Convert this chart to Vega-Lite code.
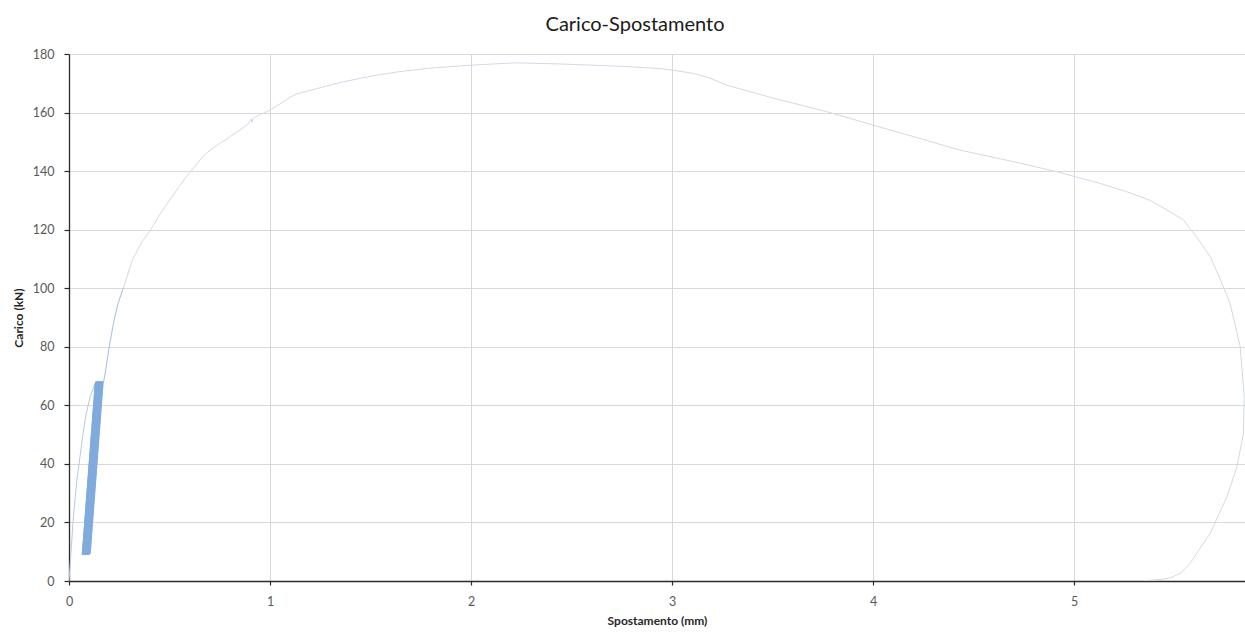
{
  "$schema": "https://vega.github.io/schema/vega-lite/v6.json",
  "width": 1176,
  "height": 527,
  "autosize": "none",
  "padding": {"left": 69, "top": 54, "right": 0, "bottom": 53},
  "background": "white",
  "title": {
    "text": "Carico-Spostamento",
    "font": "Lato",
    "fontSize": 20,
    "fontWeight": "normal",
    "color": "#1a1a1a",
    "anchor": "middle",
    "dx": -22,
    "offset": 13
  },
  "config": {
    "view": {"stroke": null},
    "axis": {
      "labelFont": "Lato",
      "titleFont": "Lato",
      "labelFontSize": 12.5,
      "labelColor": "#595959",
      "labelFlush": false,
      "titleFontSize": 12,
      "titleFontWeight": "bold",
      "titleColor": "#262626",
      "gridColor": "#d9d9d9",
      "gridWidth": 1,
      "domainColor": "#2b2b2b",
      "domainWidth": 1.3,
      "tickColor": "#2b2b2b",
      "tickWidth": 1.2
    }
  },
  "data": {
    "values": [
      {"n": 1, "spostamento": 0.0, "carico": 0.0, "fase": "primo carico"},
      {"n": 2, "spostamento": 0.005, "carico": 5, "fase": "primo carico"},
      {"n": 3, "spostamento": 0.012, "carico": 12, "fase": "primo carico"},
      {"n": 4, "spostamento": 0.02, "carico": 20, "fase": "primo carico"},
      {"n": 5, "spostamento": 0.03, "carico": 28, "fase": "primo carico"},
      {"n": 6, "spostamento": 0.04, "carico": 35, "fase": "primo carico"},
      {"n": 7, "spostamento": 0.05, "carico": 40, "fase": "primo carico"},
      {"n": 8, "spostamento": 0.065, "carico": 48, "fase": "primo carico"},
      {"n": 9, "spostamento": 0.08, "carico": 55, "fase": "primo carico"},
      {"n": 10, "spostamento": 0.095, "carico": 60, "fase": "primo carico"},
      {"n": 11, "spostamento": 0.11, "carico": 64, "fase": "primo carico"},
      {"n": 12, "spostamento": 0.13, "carico": 67.5, "fase": "primo carico"},

      {"n": 13, "spostamento": 0.13, "carico": 67.5, "fase": "cicli"},
      {"n": 14, "spostamento": 0.066, "carico": 9, "fase": "cicli"},
      {"n": 15, "spostamento": 0.132, "carico": 68, "fase": "cicli"},
      {"n": 16, "spostamento": 0.138, "carico": 68, "fase": "cicli"},
      {"n": 17, "spostamento": 0.074, "carico": 9.5, "fase": "cicli"},
      {"n": 18, "spostamento": 0.068, "carico": 9, "fase": "cicli"},
      {"n": 19, "spostamento": 0.134, "carico": 68, "fase": "cicli"},
      {"n": 20, "spostamento": 0.140, "carico": 68, "fase": "cicli"},
      {"n": 21, "spostamento": 0.076, "carico": 9.5, "fase": "cicli"},
      {"n": 22, "spostamento": 0.070, "carico": 9, "fase": "cicli"},
      {"n": 23, "spostamento": 0.136, "carico": 68, "fase": "cicli"},
      {"n": 24, "spostamento": 0.142, "carico": 68, "fase": "cicli"},
      {"n": 25, "spostamento": 0.078, "carico": 9.5, "fase": "cicli"},
      {"n": 26, "spostamento": 0.072, "carico": 9, "fase": "cicli"},
      {"n": 27, "spostamento": 0.138, "carico": 68, "fase": "cicli"},
      {"n": 28, "spostamento": 0.144, "carico": 68, "fase": "cicli"},
      {"n": 29, "spostamento": 0.080, "carico": 9.5, "fase": "cicli"},
      {"n": 30, "spostamento": 0.074, "carico": 9, "fase": "cicli"},
      {"n": 31, "spostamento": 0.140, "carico": 68, "fase": "cicli"},
      {"n": 32, "spostamento": 0.146, "carico": 68, "fase": "cicli"},
      {"n": 33, "spostamento": 0.082, "carico": 9.5, "fase": "cicli"},
      {"n": 34, "spostamento": 0.076, "carico": 9, "fase": "cicli"},
      {"n": 35, "spostamento": 0.142, "carico": 68, "fase": "cicli"},
      {"n": 36, "spostamento": 0.148, "carico": 68, "fase": "cicli"},
      {"n": 37, "spostamento": 0.084, "carico": 9.5, "fase": "cicli"},
      {"n": 38, "spostamento": 0.078, "carico": 9, "fase": "cicli"},
      {"n": 39, "spostamento": 0.144, "carico": 68, "fase": "cicli"},
      {"n": 40, "spostamento": 0.150, "carico": 68, "fase": "cicli"},
      {"n": 41, "spostamento": 0.086, "carico": 9.5, "fase": "cicli"},
      {"n": 42, "spostamento": 0.080, "carico": 9, "fase": "cicli"},
      {"n": 43, "spostamento": 0.146, "carico": 68, "fase": "cicli"},
      {"n": 44, "spostamento": 0.152, "carico": 68, "fase": "cicli"},
      {"n": 45, "spostamento": 0.088, "carico": 9.5, "fase": "cicli"},
      {"n": 46, "spostamento": 0.082, "carico": 9, "fase": "cicli"},
      {"n": 47, "spostamento": 0.148, "carico": 68, "fase": "cicli"},
      {"n": 48, "spostamento": 0.154, "carico": 68, "fase": "cicli"},
      {"n": 49, "spostamento": 0.090, "carico": 9.5, "fase": "cicli"},
      {"n": 50, "spostamento": 0.084, "carico": 9, "fase": "cicli"},
      {"n": 51, "spostamento": 0.150, "carico": 68, "fase": "cicli"},
      {"n": 52, "spostamento": 0.156, "carico": 68, "fase": "cicli"},
      {"n": 53, "spostamento": 0.092, "carico": 9.5, "fase": "cicli"},
      {"n": 54, "spostamento": 0.086, "carico": 9, "fase": "cicli"},
      {"n": 55, "spostamento": 0.152, "carico": 68, "fase": "cicli"},
      {"n": 56, "spostamento": 0.158, "carico": 68, "fase": "cicli"},
      {"n": 57, "spostamento": 0.094, "carico": 9.5, "fase": "cicli"},
      {"n": 58, "spostamento": 0.088, "carico": 9, "fase": "cicli"},
      {"n": 59, "spostamento": 0.154, "carico": 68, "fase": "cicli"},
      {"n": 60, "spostamento": 0.160, "carico": 68, "fase": "cicli"},
      {"n": 61, "spostamento": 0.096, "carico": 9.5, "fase": "cicli"},
      {"n": 62, "spostamento": 0.090, "carico": 9, "fase": "cicli"},
      {"n": 63, "spostamento": 0.156, "carico": 68, "fase": "cicli"},
      {"n": 64, "spostamento": 0.162, "carico": 68, "fase": "cicli"},
      {"n": 65, "spostamento": 0.098, "carico": 9.5, "fase": "cicli"},
      {"n": 66, "spostamento": 0.092, "carico": 9, "fase": "cicli"},
      {"n": 67, "spostamento": 0.158, "carico": 68, "fase": "cicli"},
      {"n": 68, "spostamento": 0.164, "carico": 68, "fase": "cicli"},
      {"n": 69, "spostamento": 0.100, "carico": 9.5, "fase": "cicli"},
      {"n": 70, "spostamento": 0.094, "carico": 9, "fase": "cicli"},
      {"n": 71, "spostamento": 0.160, "carico": 68, "fase": "cicli"},
      {"n": 72, "spostamento": 0.166, "carico": 68, "fase": "cicli"},
      {"n": 73, "spostamento": 0.102, "carico": 9.5, "fase": "cicli"},
      {"n": 74, "spostamento": 0.096, "carico": 9, "fase": "cicli"},
      {"n": 75, "spostamento": 0.162, "carico": 68, "fase": "cicli"},
      {"n": 76, "spostamento": 0.168, "carico": 68, "fase": "cicli"},
      {"n": 77, "spostamento": 0.104, "carico": 9.5, "fase": "cicli"},
      {"n": 78, "spostamento": 0.098, "carico": 9, "fase": "cicli"},
      {"n": 79, "spostamento": 0.164, "carico": 68, "fase": "cicli"},
      {"n": 80, "spostamento": 0.170, "carico": 68, "fase": "cicli"},
      {"n": 81, "spostamento": 0.106, "carico": 9.5, "fase": "cicli"},
      {"n": 82, "spostamento": 0.100, "carico": 9, "fase": "cicli"},
      {"n": 83, "spostamento": 0.166, "carico": 68, "fase": "cicli"},
      {"n": 84, "spostamento": 0.172, "carico": 68, "fase": "cicli"},

      {"n": 85, "spostamento": 0.172, "carico": 68, "fase": "ripresa"},
      {"n": 86, "spostamento": 0.18, "carico": 71, "fase": "ripresa"},
      {"n": 87, "spostamento": 0.19, "carico": 75.5, "fase": "ripresa"},
      {"n": 88, "spostamento": 0.20, "carico": 80, "fase": "ripresa"},
      {"n": 89, "spostamento": 0.224, "carico": 89, "fase": "ripresa"},
      {"n": 90, "spostamento": 0.245, "carico": 95, "fase": "ripresa"},
      {"n": 91, "spostamento": 0.27, "carico": 100, "fase": "ripresa"},

      {"n": 92, "spostamento": 0.27, "carico": 100, "fase": "inviluppo"},
      {"n": 93, "spostamento": 0.315, "carico": 109.6, "fase": "inviluppo"},
      {"n": 94, "spostamento": 0.36, "carico": 115.5, "fase": "inviluppo"},
      {"n": 95, "spostamento": 0.406, "carico": 120, "fase": "inviluppo"},
      {"n": 96, "spostamento": 0.45, "carico": 125, "fase": "inviluppo"},
      {"n": 97, "spostamento": 0.50, "carico": 130, "fase": "inviluppo"},
      {"n": 98, "spostamento": 0.55, "carico": 135, "fase": "inviluppo"},
      {"n": 99, "spostamento": 0.605, "carico": 140, "fase": "inviluppo"},
      {"n": 100, "spostamento": 0.68, "carico": 146, "fase": "inviluppo"},
      {"n": 101, "spostamento": 0.74, "carico": 149, "fase": "inviluppo"},
      {"n": 102, "spostamento": 0.80, "carico": 151.7, "fase": "inviluppo"},
      {"n": 103, "spostamento": 0.86, "carico": 154.5, "fase": "inviluppo"},
      {"n": 104, "spostamento": 0.895, "carico": 156.3, "fase": "inviluppo"},
      {"n": 105, "spostamento": 0.905, "carico": 157.8, "fase": "inviluppo"},
      {"n": 106, "spostamento": 0.91, "carico": 156.6, "fase": "inviluppo"},
      {"n": 107, "spostamento": 0.915, "carico": 158, "fase": "inviluppo"},
      {"n": 108, "spostamento": 0.95, "carico": 159.3, "fase": "inviluppo"},
      {"n": 109, "spostamento": 1.0, "carico": 160.8, "fase": "inviluppo"},
      {"n": 110, "spostamento": 1.05, "carico": 163, "fase": "inviluppo"},
      {"n": 111, "spostamento": 1.095, "carico": 165, "fase": "inviluppo"},
      {"n": 112, "spostamento": 1.13, "carico": 166.3, "fase": "inviluppo"},
      {"n": 113, "spostamento": 1.25, "carico": 168.5, "fase": "inviluppo"},
      {"n": 114, "spostamento": 1.365, "carico": 170.5, "fase": "inviluppo"},
      {"n": 115, "spostamento": 1.5, "carico": 172.4, "fase": "inviluppo"},
      {"n": 116, "spostamento": 1.647, "carico": 174, "fase": "inviluppo"},
      {"n": 117, "spostamento": 1.8, "carico": 175.2, "fase": "inviluppo"},
      {"n": 118, "spostamento": 2.0, "carico": 176.2, "fase": "inviluppo"},
      {"n": 119, "spostamento": 2.227, "carico": 177, "fase": "inviluppo"},
      {"n": 120, "spostamento": 2.44, "carico": 176.6, "fase": "inviluppo"},
      {"n": 121, "spostamento": 2.6, "carico": 176.2, "fase": "inviluppo"},
      {"n": 122, "spostamento": 2.775, "carico": 175.7, "fase": "inviluppo"},
      {"n": 123, "spostamento": 2.94, "carico": 175, "fase": "inviluppo"},
      {"n": 124, "spostamento": 3.0, "carico": 174.5, "fase": "inviluppo"},
      {"n": 125, "spostamento": 3.106, "carico": 173.4, "fase": "inviluppo"},
      {"n": 126, "spostamento": 3.19, "carico": 171.7, "fase": "inviluppo"},
      {"n": 127, "spostamento": 3.27, "carico": 169.4, "fase": "inviluppo"},
      {"n": 128, "spostamento": 3.5, "carico": 165, "fase": "inviluppo"},
      {"n": 129, "spostamento": 3.77, "carico": 160.3, "fase": "inviluppo"},
      {"n": 130, "spostamento": 4.0, "carico": 155.7, "fase": "inviluppo"},
      {"n": 131, "spostamento": 4.2, "carico": 151.8, "fase": "inviluppo"},
      {"n": 132, "spostamento": 4.43, "carico": 147.2, "fase": "inviluppo"},
      {"n": 133, "spostamento": 4.7, "carico": 143.2, "fase": "inviluppo"},
      {"n": 134, "spostamento": 4.914, "carico": 139.8, "fase": "inviluppo"},
      {"n": 135, "spostamento": 5.005, "carico": 138.1, "fase": "inviluppo"},
      {"n": 136, "spostamento": 5.13, "carico": 135.8, "fase": "inviluppo"},
      {"n": 137, "spostamento": 5.26, "carico": 133, "fase": "inviluppo"},
      {"n": 138, "spostamento": 5.378, "carico": 130, "fase": "inviluppo"},
      {"n": 139, "spostamento": 5.46, "carico": 126.8, "fase": "inviluppo"},
      {"n": 140, "spostamento": 5.544, "carico": 123.3, "fase": "inviluppo"},
      {"n": 141, "spostamento": 5.62, "carico": 116.5, "fase": "inviluppo"},
      {"n": 142, "spostamento": 5.677, "carico": 110.8, "fase": "inviluppo"},
      {"n": 143, "spostamento": 5.73, "carico": 102.5, "fase": "inviluppo"},
      {"n": 144, "spostamento": 5.776, "carico": 94.8, "fase": "inviluppo"},
      {"n": 145, "spostamento": 5.826, "carico": 80, "fase": "inviluppo"},
      {"n": 146, "spostamento": 5.846, "carico": 63, "fase": "inviluppo"},
      {"n": 147, "spostamento": 5.842, "carico": 50.4, "fase": "inviluppo"},
      {"n": 148, "spostamento": 5.81, "carico": 39, "fase": "inviluppo"},
      {"n": 149, "spostamento": 5.76, "carico": 28.8, "fase": "inviluppo"},
      {"n": 150, "spostamento": 5.677, "carico": 16.3, "fase": "inviluppo"},
      {"n": 151, "spostamento": 5.62, "carico": 10.5, "fase": "inviluppo"},
      {"n": 152, "spostamento": 5.577, "carico": 6, "fase": "inviluppo"},
      {"n": 153, "spostamento": 5.53, "carico": 2.7, "fase": "inviluppo"},
      {"n": 154, "spostamento": 5.486, "carico": 1.3, "fase": "inviluppo"},
      {"n": 155, "spostamento": 5.44, "carico": 0.6, "fase": "inviluppo"},
      {"n": 156, "spostamento": 5.38, "carico": 0.3, "fase": "inviluppo"},
      {"n": 157, "spostamento": 5.35, "carico": 0.2, "fase": "inviluppo"}
    ]
  },
  "mark": {"type": "line", "clip": true, "strokeWidth": 1, "strokeJoin": "round"},
  "encoding": {
    "x": {
      "field": "spostamento",
      "type": "quantitative",
      "scale": {"domain": [0, 5.85], "nice": false},
      "axis": {
        "title": "Spostamento (mm)",
        "values": [0, 1, 2, 3, 4, 5],
        "format": "d",
        "tickSize": 4,
        "labelPadding": 10,
        "titlePadding": 8,
        "gridColor": {"condition": {"test": "datum.value === 0", "value": "transparent"}, "value": "#d9d9d9"}
      }
    },
    "y": {
      "field": "carico",
      "type": "quantitative",
      "scale": {"domain": [0, 180], "nice": false},
      "axis": {
        "title": "Carico (kN)",
        "values": [0, 20, 40, 60, 80, 100, 120, 140, 160, 180],
        "tickSize": 5,
        "labelPadding": 10,
        "titlePadding": 7
      }
    },
    "order": {"field": "n", "type": "quantitative"},
    "color": {
      "field": "fase",
      "type": "nominal",
      "scale": {
        "domain": ["primo carico", "cicli", "ripresa", "inviluppo"],
        "range": ["#b3cae9", "#80abdd", "#a3bfe4", "#d3dae6"]
      },
      "legend": null
    }
  }
}
